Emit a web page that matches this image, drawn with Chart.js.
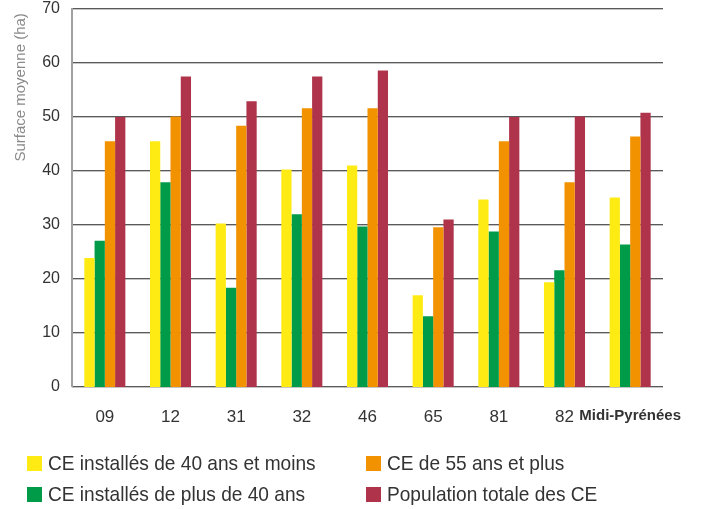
<!DOCTYPE html>
<html>
<head>
<meta charset="utf-8">
<script src="https://cdn.jsdelivr.net/npm/chart.js@4"></script>
<style>
  body { margin: 0; background: #fff; }
  #wrap { position: relative; width: 710px; height: 509px; }
  #legend { position: absolute; left: 0; top: 0; width: 710px; height: 509px; pointer-events: none;
    font-family: 'Liberation Sans', Arial, sans-serif; font-size: 21px; color: #333; }
  .item { position: absolute; display: flex; align-items: center; white-space: nowrap; }
  .box { width: 15px; height: 15px; margin-right: 6px; flex: none; }
  .txt { display: inline-block; transform: scaleX(0.91); transform-origin: left center; }
</style>
</head>
<body>
<div id="wrap">
  <canvas id="myChart" width="710" height="509"></canvas>
  <div id="legend"></div>
</div>
<script>
const categories = ['09', '12', '31', '32', '46', '65', '81', '82', 'Midi-Pyrénées'];
const yTicks = [0, 10, 20, 30, 40, 50, 60, 70];

const seriesNames = [
  'CE installés de 40 ans et moins',
  'CE installés de plus de 40 ans',
  'CE de 55 ans et plus',
  'Population totale des CE'
];
const young = [23.9, 45.5, 30.3, 40.3, 41.0, 17.0, 34.7, 19.4, 35.1];
const older = [27.1, 37.9, 18.4, 32.0, 29.7, 13.1, 28.8, 21.6, 26.4];
const senior = [45.5, 50.1, 48.4, 51.6, 51.6, 29.6, 45.5, 37.9, 46.4];
const total = [50.0, 57.5, 52.9, 57.5, 58.6, 31.0, 50.0, 50.1, 50.8];
const colors = ['#ffeb14', '#009b48', '#f39200', '#af344b'];

const sans = "'Liberation Sans', Arial, sans-serif";

// dark gridline with a light line under it, plus the grey left axis
const gridShadow = {
  id: 'gridShadow',
  beforeDatasetsDraw(chart) {
    const ctx = chart.ctx;
    const y = chart.scales.y;
    const area = chart.chartArea;
    ctx.save();
    yTicks.forEach(v => {
      const py = Math.round(y.getPixelForValue(v));
      ctx.fillStyle = '#5a5a5a';
      ctx.fillRect(area.left, py - 1, area.right - area.left, 1);
      ctx.fillStyle = '#c4c4c4';
      ctx.fillRect(area.left, py, area.right - area.left, 1);
    });
    ctx.fillStyle = '#a0a0a0';
    ctx.fillRect(area.left - 1, area.top - 1, 2, area.bottom - area.top + 1);
    ctx.restore();
  }
};

const datasets = [young, older, senior, total].map((d, i) => ({
  label: seriesNames[i],
  data: d,
  backgroundColor: colors[i],
  borderWidth: 0,
  categoryPercentage: 0.625,
  barPercentage: 1.0
}));

const ctx = document.getElementById('myChart').getContext('2d');
const chart = new Chart(ctx, {
  type: 'bar',
  data: { labels: categories, datasets: datasets },
  options: {
    responsive: false,
    animation: false,
    layout: { padding: { top: 9, right: 47, left: 0, bottom: 0 } },
    plugins: { legend: { display: false }, tooltip: { enabled: false } },
    scales: {
      x: {
        grid: { display: false, drawTicks: false },
        border: { display: false },
        afterFit: s => { s.height = 122; s.paddingLeft = 0; s.paddingRight = 0; },
        ticks: {
          padding: 20,
          color: '#333',
          autoSkip: false,
          maxRotation: 0,
          font: c => (c.index === 8 ? { family: sans, size: 15, weight: 'bold' } : { family: sans, size: 17 })
        }
      },
      y: {
        min: 0,
        max: 70,
        afterFit: s => { s.width = 72; s.paddingTop = 0; s.paddingBottom = 0; },
        afterBuildTicks: s => { s.ticks = yTicks.map(v => ({ value: v })); },
        grid: { display: false, drawTicks: false },
        border: { display: false },
        ticks: { padding: 12, color: '#333', font: { family: sans, size: 16 } },
        title: {
          display: true,
          text: 'Surface moyenne (ha) ',
          align: 'end',
          color: '#8a8a8a',
          padding: { top: 12, bottom: 0 },
          font: { family: sans, size: 15 }
        }
      }
    }
  },
  plugins: [gridShadow]
});

// legend: two columns, laid out like the original
const legendOrder = [0, 2, 1, 3];
const legendPos = [[27, 463], [366, 463], [27, 494], [366, 494]];
const legend = document.getElementById('legend');
legendOrder.forEach((di, k) => {
  const ds = chart.data.datasets[di];
  const el = document.createElement('div');
  el.className = 'item';
  el.style.left = legendPos[k][0] + 'px';
  el.style.top = (legendPos[k][1] - 12) + 'px';
  el.style.height = '24px';
  el.innerHTML = '<span class="box" style="background:' + ds.backgroundColor + '"></span><span class="txt">' + ds.label + '</span>';
  legend.appendChild(el);
});
</script>
</body>
</html>
